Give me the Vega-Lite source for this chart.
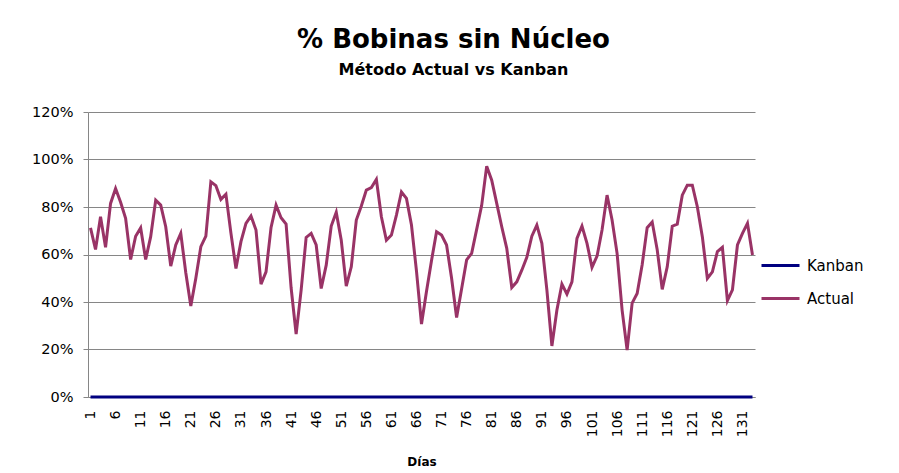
{
  "$schema": "https://vega.github.io/schema/vega-lite/v6.json",
  "width": 667,
  "height": 285,
  "autosize": {"type": "none"},
  "padding": {"left": 88, "top": 112, "right": 144, "bottom": 76},
  "background": "white",
  "title": {
    "text": "% Bobinas sin Núcleo",
    "subtitle": "Método Actual vs Kanban",
    "anchor": "middle",
    "dx": 32,
    "offset": 26,
    "font": "DejaVu Sans",
    "fontSize": 26,
    "fontWeight": "bold",
    "color": "black",
    "subtitleFont": "DejaVu Sans",
    "subtitleFontSize": 16,
    "subtitleFontWeight": "bold",
    "subtitleColor": "black",
    "subtitlePadding": 9
  },
  "data": {
    "values": [
      {"dia": 1, "Actual": 0.712, "Kanban": 0},
      {"dia": 2, "Actual": 0.621, "Kanban": 0},
      {"dia": 3, "Actual": 0.759, "Kanban": 0},
      {"dia": 4, "Actual": 0.63, "Kanban": 0},
      {"dia": 5, "Actual": 0.815, "Kanban": 0},
      {"dia": 6, "Actual": 0.878, "Kanban": 0},
      {"dia": 7, "Actual": 0.82, "Kanban": 0},
      {"dia": 8, "Actual": 0.752, "Kanban": 0},
      {"dia": 9, "Actual": 0.579, "Kanban": 0},
      {"dia": 10, "Actual": 0.677, "Kanban": 0},
      {"dia": 11, "Actual": 0.712, "Kanban": 0},
      {"dia": 12, "Actual": 0.579, "Kanban": 0},
      {"dia": 13, "Actual": 0.675, "Kanban": 0},
      {"dia": 14, "Actual": 0.829, "Kanban": 0},
      {"dia": 15, "Actual": 0.808, "Kanban": 0},
      {"dia": 16, "Actual": 0.717, "Kanban": 0},
      {"dia": 17, "Actual": 0.551, "Kanban": 0},
      {"dia": 18, "Actual": 0.64, "Kanban": 0},
      {"dia": 19, "Actual": 0.689, "Kanban": 0},
      {"dia": 20, "Actual": 0.523, "Kanban": 0},
      {"dia": 21, "Actual": 0.383, "Kanban": 0},
      {"dia": 22, "Actual": 0.5, "Kanban": 0},
      {"dia": 23, "Actual": 0.633, "Kanban": 0},
      {"dia": 24, "Actual": 0.677, "Kanban": 0},
      {"dia": 25, "Actual": 0.906, "Kanban": 0},
      {"dia": 26, "Actual": 0.89, "Kanban": 0},
      {"dia": 27, "Actual": 0.832, "Kanban": 0},
      {"dia": 28, "Actual": 0.854, "Kanban": 0},
      {"dia": 29, "Actual": 0.69, "Kanban": 0},
      {"dia": 30, "Actual": 0.541, "Kanban": 0},
      {"dia": 31, "Actual": 0.654, "Kanban": 0},
      {"dia": 32, "Actual": 0.731, "Kanban": 0},
      {"dia": 33, "Actual": 0.762, "Kanban": 0},
      {"dia": 34, "Actual": 0.703, "Kanban": 0},
      {"dia": 35, "Actual": 0.475, "Kanban": 0},
      {"dia": 36, "Actual": 0.527, "Kanban": 0},
      {"dia": 37, "Actual": 0.714, "Kanban": 0},
      {"dia": 38, "Actual": 0.808, "Kanban": 0},
      {"dia": 39, "Actual": 0.755, "Kanban": 0},
      {"dia": 40, "Actual": 0.728, "Kanban": 0},
      {"dia": 41, "Actual": 0.46, "Kanban": 0},
      {"dia": 42, "Actual": 0.265, "Kanban": 0},
      {"dia": 43, "Actual": 0.45, "Kanban": 0},
      {"dia": 44, "Actual": 0.672, "Kanban": 0},
      {"dia": 45, "Actual": 0.689, "Kanban": 0},
      {"dia": 46, "Actual": 0.64, "Kanban": 0},
      {"dia": 47, "Actual": 0.457, "Kanban": 0},
      {"dia": 48, "Actual": 0.555, "Kanban": 0},
      {"dia": 49, "Actual": 0.72, "Kanban": 0},
      {"dia": 50, "Actual": 0.778, "Kanban": 0},
      {"dia": 51, "Actual": 0.66, "Kanban": 0},
      {"dia": 52, "Actual": 0.467, "Kanban": 0},
      {"dia": 53, "Actual": 0.548, "Kanban": 0},
      {"dia": 54, "Actual": 0.745, "Kanban": 0},
      {"dia": 55, "Actual": 0.804, "Kanban": 0},
      {"dia": 56, "Actual": 0.871, "Kanban": 0},
      {"dia": 57, "Actual": 0.882, "Kanban": 0},
      {"dia": 58, "Actual": 0.916, "Kanban": 0},
      {"dia": 59, "Actual": 0.759, "Kanban": 0},
      {"dia": 60, "Actual": 0.66, "Kanban": 0},
      {"dia": 61, "Actual": 0.682, "Kanban": 0},
      {"dia": 62, "Actual": 0.766, "Kanban": 0},
      {"dia": 63, "Actual": 0.863, "Kanban": 0},
      {"dia": 64, "Actual": 0.836, "Kanban": 0},
      {"dia": 65, "Actual": 0.724, "Kanban": 0},
      {"dia": 66, "Actual": 0.53, "Kanban": 0},
      {"dia": 67, "Actual": 0.307, "Kanban": 0},
      {"dia": 68, "Actual": 0.445, "Kanban": 0},
      {"dia": 69, "Actual": 0.575, "Kanban": 0},
      {"dia": 70, "Actual": 0.696, "Kanban": 0},
      {"dia": 71, "Actual": 0.682, "Kanban": 0},
      {"dia": 72, "Actual": 0.64, "Kanban": 0},
      {"dia": 73, "Actual": 0.5, "Kanban": 0},
      {"dia": 74, "Actual": 0.335, "Kanban": 0},
      {"dia": 75, "Actual": 0.456, "Kanban": 0},
      {"dia": 76, "Actual": 0.577, "Kanban": 0},
      {"dia": 77, "Actual": 0.605, "Kanban": 0},
      {"dia": 78, "Actual": 0.706, "Kanban": 0},
      {"dia": 79, "Actual": 0.807, "Kanban": 0},
      {"dia": 80, "Actual": 0.972, "Kanban": 0},
      {"dia": 81, "Actual": 0.913, "Kanban": 0},
      {"dia": 82, "Actual": 0.815, "Kanban": 0},
      {"dia": 83, "Actual": 0.717, "Kanban": 0},
      {"dia": 84, "Actual": 0.626, "Kanban": 0},
      {"dia": 85, "Actual": 0.461, "Kanban": 0},
      {"dia": 86, "Actual": 0.485, "Kanban": 0},
      {"dia": 87, "Actual": 0.534, "Kanban": 0},
      {"dia": 88, "Actual": 0.588, "Kanban": 0},
      {"dia": 89, "Actual": 0.677, "Kanban": 0},
      {"dia": 90, "Actual": 0.724, "Kanban": 0},
      {"dia": 91, "Actual": 0.647, "Kanban": 0},
      {"dia": 92, "Actual": 0.451, "Kanban": 0},
      {"dia": 93, "Actual": 0.215, "Kanban": 0},
      {"dia": 94, "Actual": 0.366, "Kanban": 0},
      {"dia": 95, "Actual": 0.475, "Kanban": 0},
      {"dia": 96, "Actual": 0.433, "Kanban": 0},
      {"dia": 97, "Actual": 0.485, "Kanban": 0},
      {"dia": 98, "Actual": 0.668, "Kanban": 0},
      {"dia": 99, "Actual": 0.72, "Kanban": 0},
      {"dia": 100, "Actual": 0.647, "Kanban": 0},
      {"dia": 101, "Actual": 0.546, "Kanban": 0},
      {"dia": 102, "Actual": 0.593, "Kanban": 0},
      {"dia": 103, "Actual": 0.703, "Kanban": 0},
      {"dia": 104, "Actual": 0.85, "Kanban": 0},
      {"dia": 105, "Actual": 0.745, "Kanban": 0},
      {"dia": 106, "Actual": 0.605, "Kanban": 0},
      {"dia": 107, "Actual": 0.366, "Kanban": 0},
      {"dia": 108, "Actual": 0.198, "Kanban": 0},
      {"dia": 109, "Actual": 0.395, "Kanban": 0},
      {"dia": 110, "Actual": 0.436, "Kanban": 0},
      {"dia": 111, "Actual": 0.557, "Kanban": 0},
      {"dia": 112, "Actual": 0.713, "Kanban": 0},
      {"dia": 113, "Actual": 0.737, "Kanban": 0},
      {"dia": 114, "Actual": 0.62, "Kanban": 0},
      {"dia": 115, "Actual": 0.453, "Kanban": 0},
      {"dia": 116, "Actual": 0.548, "Kanban": 0},
      {"dia": 117, "Actual": 0.719, "Kanban": 0},
      {"dia": 118, "Actual": 0.728, "Kanban": 0},
      {"dia": 119, "Actual": 0.85, "Kanban": 0},
      {"dia": 120, "Actual": 0.892, "Kanban": 0},
      {"dia": 121, "Actual": 0.892, "Kanban": 0},
      {"dia": 122, "Actual": 0.801, "Kanban": 0},
      {"dia": 123, "Actual": 0.675, "Kanban": 0},
      {"dia": 124, "Actual": 0.499, "Kanban": 0},
      {"dia": 125, "Actual": 0.527, "Kanban": 0},
      {"dia": 126, "Actual": 0.612, "Kanban": 0},
      {"dia": 127, "Actual": 0.63, "Kanban": 0},
      {"dia": 128, "Actual": 0.406, "Kanban": 0},
      {"dia": 129, "Actual": 0.451, "Kanban": 0},
      {"dia": 130, "Actual": 0.64, "Kanban": 0},
      {"dia": 131, "Actual": 0.689, "Kanban": 0},
      {"dia": 132, "Actual": 0.731, "Kanban": 0},
      {"dia": 133, "Actual": 0.598, "Kanban": 0}
    ]
  },
  "transform": [{"fold": ["Kanban", "Actual"], "as": ["serie", "valor"]}],
  "mark": {"type": "line", "strokeWidth": 3, "clip": false},
  "encoding": {
    "x": {
      "field": "dia",
      "type": "quantitative",
      "scale": {"domain": [0.5, 133.5], "nice": false, "zero": false},
      "axis": {
        "values": [1, 6, 11, 16, 21, 26, 31, 36, 41, 46, 51, 56, 61, 66, 71, 76, 81, 86, 91, 96, 101, 106, 111, 116, 121, 126, 131],
        "labelAngle": -90,
        "labelAlign": "right",
        "labelBaseline": "middle",
        "labelFont": "DejaVu Sans",
        "labelFontSize": 14,
        "labelColor": "black",
        "labelPadding": 13,
        "ticks": false,
        "grid": false,
        "domainColor": "#868686",
        "labelOverlap": false,
        "title": "Días",
        "titleFont": "DejaVu Sans",
        "titleFontSize": 12,
        "titleFontWeight": "bold",
        "titleColor": "black",
        "titlePadding": 20
      }
    },
    "y": {
      "field": "valor",
      "type": "quantitative",
      "scale": {"domain": [0, 1.2], "nice": false},
      "axis": {
        "values": [0, 0.2, 0.4, 0.6, 0.8, 1, 1.2],
        "format": ".0%",
        "grid": true,
        "gridColor": "#868686",
        "gridWidth": 1,
        "domainColor": "#868686",
        "tickColor": "#868686",
        "tickSize": 5,
        "labelPadding": 10,
        "labelFont": "DejaVu Sans",
        "labelFontSize": 14.5,
        "labelColor": "black",
        "title": null
      }
    },
    "color": {
      "field": "serie",
      "type": "nominal",
      "scale": {"domain": ["Kanban", "Actual"], "range": ["#000080", "#993366"]},
      "legend": {
        "orient": "none",
        "legendX": 672,
        "legendY": 133,
        "title": null,
        "symbolType": "stroke",
        "symbolSize": 1444,
        "symbolStrokeWidth": 3,
        "labelFont": "DejaVu Sans",
        "labelFontSize": 15,
        "labelColor": "black",
        "labelOffset": 6,
        "rowPadding": 4
      }
    }
  },
  "config": {"view": {"stroke": null}}
}
